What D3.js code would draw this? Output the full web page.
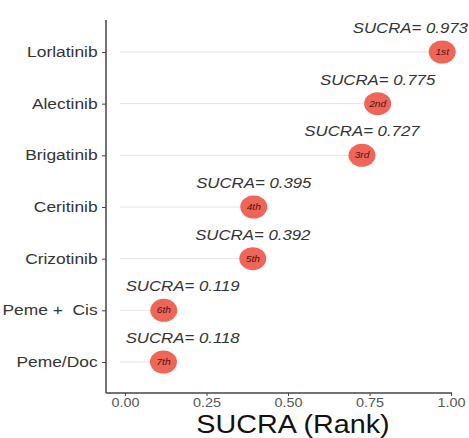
<!DOCTYPE html>
<html>
<head>
<meta charset="utf-8">
<script src="https://cdn.jsdelivr.net/npm/d3@7"></script>
<style>
  body { margin: 0; background: #fff; }
  text { font-family: Arial, "Liberation Sans", sans-serif; }
</style>
</head>
<body>
<div id="chart"></div>
<script>
// treatments from top to bottom
let treatments = ['Lorlatinib', 'Alectinib', 'Brigatinib', 'Ceritinib', 'Crizotinib', 'Peme +  Cis', 'Peme/Doc']
let sucra = [0.973, 0.775, 0.727, 0.395, 0.392, 0.119, 0.118]
let ranks = ['1st', '2nd', '3rd', '4th', '5th', '6th', '7th']
let xTicks = [0, 0.25, 0.5, 0.75, 1]

let width = 469
let height = 438
let stretch = 1.2 // the picture text is a bit wide
let pointColor = '#ef6658'
let segColor = '#e3e3e3'

let data = treatments.map((t, i) => ({ name: t, value: sucra[i], rank: ranks[i] }))

let svg = d3.select('#chart')
  .append('svg')
  .attr('width', width)
  .attr('height', height)

svg.append('rect')
  .attr('width', width)
  .attr('height', height)
  .attr('fill', '#fff')

let x = d3.scaleLinear().domain([0, 1]).range([125, 451])
let y = d3.scalePoint().domain(treatments).range([52, 362])

let panelLeft = 106
let panelBottom = 393
let panelTop = 20

// segments
svg.append('g')
  .selectAll('line')
  .data(data)
  .enter()
  .append('line')
  .attr('x1', x(0) - 5)
  .attr('x2', d => x(d.value))
  .attr('y1', d => y(d.name))
  .attr('y2', d => y(d.name))
  .attr('stroke', segColor)
  .attr('stroke-width', 1)

// points
let pts = svg.append('g')
  .selectAll('g')
  .data(data)
  .enter()
  .append('g')
  .attr('transform', d => 'translate(' + x(d.value) + ',' + y(d.name) + ')')

pts.append('ellipse')
  .attr('rx', 13.5)
  .attr('ry', 11.5)
  .attr('fill', pointColor)

pts.append('text')
  .attr('transform', 'scale(' + stretch + ',1)')
  .attr('text-anchor', 'middle')
  .attr('dy', '0.35em')
  .style('font-size', '8.5px')
  .style('font-style', 'italic')
  .style('fill', '#4a140d')
  .text(d => d.rank)

// SUCRA labels, centred on the point but kept inside the picture
let labelSize = 14
svg.append('g')
  .selectAll('text')
  .data(data)
  .enter()
  .append('text')
  .attr('transform', function (d) {
    let w = 6.864 * labelSize * stretch
    let cx = x(d.value)
    cx = Math.min(cx, width - 1 - w / 2)
    cx = Math.max(cx, panelLeft + 19 + w / 2)
    return 'translate(' + cx + ',' + (y(d.name) - 19) + ')scale(' + stretch + ',1)'
  })
  .attr('text-anchor', 'middle')
  .style('font-size', labelSize + 'px')
  .style('font-style', 'italic')
  .style('fill', '#333')
  .text(d => 'SUCRA= ' + d.value.toFixed(3))

// x axis
let xAxis = svg.append('g')
  .attr('transform', 'translate(0,' + panelBottom + ')')
  .call(d3.axisBottom(x).tickValues(xTicks).tickFormat(d3.format('.2f')).tickSize(3).tickPadding(2))
xAxis.select('.domain').remove()
xAxis.selectAll('.tick line').attr('stroke', '#444')
xAxis.selectAll('.tick text')
  .attr('transform', 'scale(' + stretch + ',1)')
  .style('font-size', '12px')
  .style('fill', '#555')
  .style('font-family', 'Arial, "Liberation Sans", sans-serif')

// y axis
let yAxis = svg.append('g')
  .attr('transform', 'translate(' + panelLeft + ',0)')
  .call(d3.axisLeft(y).tickSize(4).tickPadding(3))
yAxis.select('.domain').remove()
yAxis.selectAll('.tick line').attr('stroke', '#444')
yAxis.selectAll('.tick text')
  .attr('transform', 'scale(' + stretch + ',1)')
  .style('font-size', '14.5px')
  .style('fill', '#333')
  .style('white-space', 'pre')
  .style('font-family', 'Arial, "Liberation Sans", sans-serif')

// panel lines
svg.append('line')
  .attr('x1', panelLeft).attr('x2', panelLeft)
  .attr('y1', panelTop).attr('y2', panelBottom)
  .attr('stroke', '#444').attr('stroke-width', 1.5)
svg.append('line')
  .attr('x1', panelLeft).attr('x2', x(1) + 1)
  .attr('y1', panelBottom).attr('y2', panelBottom)
  .attr('stroke', '#444').attr('stroke-width', 1.5)

// x title
svg.append('text')
  .attr('transform', 'translate(' + 293 + ',433)scale(1.15,1)')
  .attr('text-anchor', 'middle')
  .style('font-size', '25px')
  .style('fill', '#111')
  .text('SUCRA (Rank)')
</script>
</body>
</html>
